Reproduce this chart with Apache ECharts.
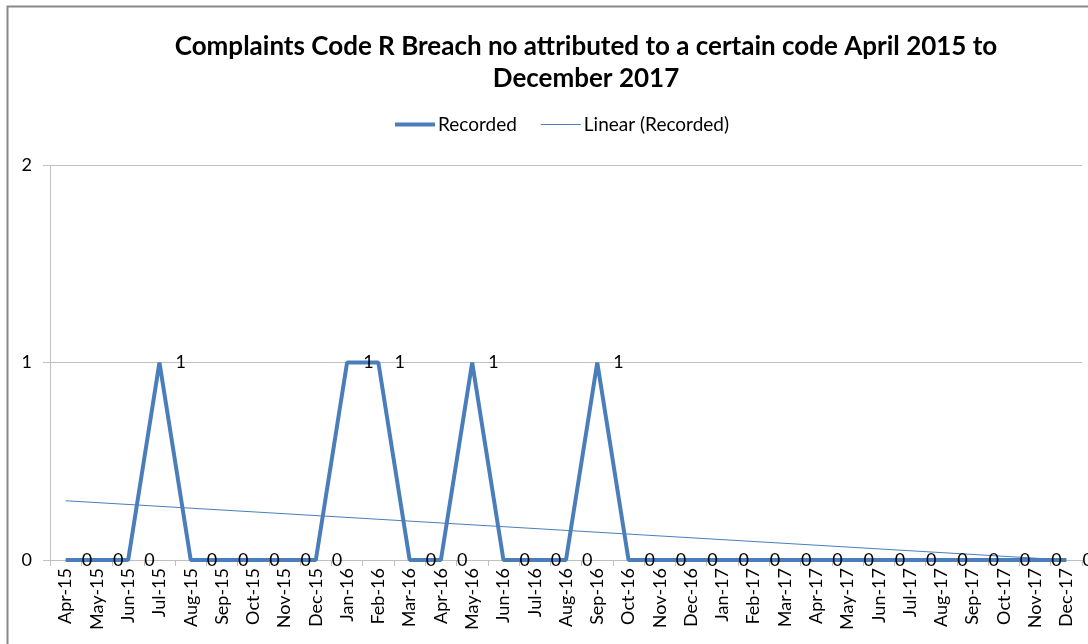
<!DOCTYPE html>
<html>
<head>
<meta charset="utf-8">
<script src="https://cdn.jsdelivr.net/npm/echarts@6/dist/echarts.min.js"></script>
<style>
html,body{margin:0;padding:0;background:#fff;}
#chart{width:1088px;height:644px;}
</style>
</head>
<body>
<div id="chart"></div>
<script>
const categories = ['Apr-15','May-15','Jun-15','Jul-15','Aug-15','Sep-15','Oct-15','Nov-15','Dec-15',
  'Jan-16','Feb-16','Mar-16','Apr-16','May-16','Jun-16','Jul-16','Aug-16','Sep-16','Oct-16','Nov-16','Dec-16',
  'Jan-17','Feb-17','Mar-17','Apr-17','May-17','Jun-17','Jul-17','Aug-17','Sep-17','Oct-17','Nov-17','Dec-17'];
const recorded = [0,0,0,1,0,0,0,0,0,1,1,0,0,1,0,0,0,1,0,0,0,0,0,0,0,0,0,0,0,0,0,0,0];
// Linear trendline end values
const trendStart = 0.30;
const trendEnd = 0.00;
const yTicks = [0, 1, 2];

const trendData = categories.map((c, i) => i === 0 ? trendStart : (i === categories.length - 1 ? trendEnd : null));
const FONT = 'Lato';
const chart = echarts.init(document.getElementById('chart'), null, {renderer: 'canvas'});
chart.setOption({
  animation: false,
  backgroundColor: '#fff',
  textStyle: {fontFamily: FONT},
  graphic: [{
    type: 'rect', silent: true,
    shape: {x: 7.5, y: 6.5, width: 1200, height: 800},
    style: {fill: 'none', stroke: '#898989', lineWidth: 2}
  }],
  title: {
    text: 'Complaints Code R Breach no attributed to a certain code April 2015 to\nDecember 2017',
    left: 581, top: 26, textAlign: 'center',
    textStyle: {fontFamily: FONT, fontWeight: 'bold', fontSize: 26, lineHeight: 32, color: '#000'}
  },
  legend: {
    top: 110, left: 390,
    itemGap: 24, itemWidth: 40, itemHeight: 12,
    textStyle: {fontFamily: FONT, fontSize: 19, color: '#000', padding: [0,0,0,-2]},
    data: [
      {name: 'Recorded', icon: 'path://M0,0H40V4H0Z'},
      {name: 'Linear (Recorded)', icon: 'path://M0,0H40V1H0Z'}
    ]
  },
  grid: {left: 50, right: 6, top: 165, bottom: 84, containLabel: false},
  xAxis: {
    type: 'category',
    data: categories,
    boundaryGap: true,
    axisLine: {lineStyle: {color: '#bfbfbf', width: 1}},
    axisTick: {show: true, length: 6, lineStyle: {color: '#bfbfbf'}, interval: 0},
    axisLabel: {rotate: 90, interval: 0, fontFamily: FONT, fontSize: 18, color: '#000', margin: 8}
  },
  yAxis: {
    type: 'value', min: 0, max: 2, interval: 1,
    axisLine: {show: true, lineStyle: {color: '#bfbfbf'}},
    axisTick: {show: true, length: 7, lineStyle: {color: '#bfbfbf'}},
    splitLine: {show: true, lineStyle: {color: '#bfbfbf', width: 1}},
    axisLabel: {fontFamily: FONT, fontSize: 18, color: '#000', margin: 18,
      formatter: v => yTicks.indexOf(v) >= 0 ? String(v) : ''}
  },
  series: [
    {
      name: 'Recorded', type: 'line', data: recorded,
      symbol: 'circle', symbolSize: 0.1, showSymbol: true,
      lineStyle: {color: '#4a7ebb', width: 4},
      itemStyle: {color: '#4a7ebb'},
      label: {show: true, position: 'right', distance: 16, fontFamily: FONT, fontSize: 18, color: '#000'},
      z: 3
    },
    {
      name: 'Linear (Recorded)', type: 'line', data: trendData, connectNulls: true,
      symbol: 'none',
      lineStyle: {color: '#4a7ebb', width: 1},
      itemStyle: {color: '#4a7ebb'},
      z: 2
    }
  ]
});
</script>
</body>
</html>
